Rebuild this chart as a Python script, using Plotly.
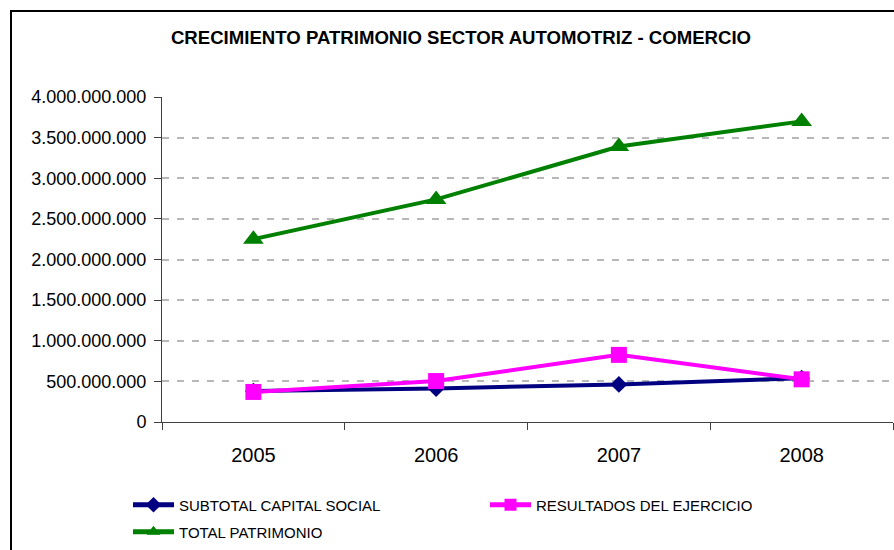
import plotly.graph_objects as go

years = ["2005", "2006", "2007", "2008"]
capital_social = [380_000_000, 413_000_000, 463_000_000, 540_000_000]
resultados = [370_000_000, 504_000_000, 826_000_000, 525_000_000]
total_patrimonio = [2_250_000_000, 2_740_000_000, 3_390_000_000, 3_700_000_000]
y_ticks = [0, 500_000_000, 1_000_000_000, 1_500_000_000, 2_000_000_000,
           2_500_000_000, 3_000_000_000, 3_500_000_000, 4_000_000_000]

W, H = 894, 550
L, R, T, B = 162, 1, 97, 128
pw, ph = W - L - R, H - T - B

fig = go.Figure()
fig.add_trace(go.Scatter(
    x=years, y=capital_social, name="SUBTOTAL CAPITAL SOCIAL", mode="lines+markers",
    line=dict(color="#000080", width=4),
    marker=dict(symbol="diamond", size=13, color="#000080"), legend="legend"))
fig.add_trace(go.Scatter(
    x=years, y=resultados, name="RESULTADOS DEL EJERCICIO", mode="lines+markers",
    line=dict(color="#FF00FF", width=4),
    marker=dict(symbol="square", size=16, color="#FF00FF"), legend="legend"))
fig.add_trace(go.Scatter(
    x=years, y=total_patrimonio, name="TOTAL PATRIMONIO", mode="lines+markers",
    line=dict(color="#008000", width=4),
    marker=dict(symbol="triangle-up", size=18, color="#008000"), legend="legend2"))

font = "Liberation Sans, Arial, sans-serif"
legend_common = dict(orientation="h", xref="container", yref="container",
                     xanchor="left", yanchor="middle", bgcolor="rgba(0,0,0,0)",
                     font=dict(family=font, size=15, color="#000"),
                     entrywidth=301, entrywidthmode="pixels", itemsizing="constant",
                     itemwidth=41)

fig.update_layout(
    width=W, height=H,
    margin=dict(l=L, r=R, t=T, b=B),
    paper_bgcolor="white", plot_bgcolor="white",
    separators=",.",
    showlegend=True,
    title=dict(text="<b>CRECIMIENTO PATRIMONIO SECTOR AUTOMOTRIZ - COMERCIO</b>",
               x=461 / W, xref="container", xanchor="center",
               y=1 - 37 / H, yref="container", yanchor="middle",
               font=dict(family=font, size=18.6, color="#000")),
    legend=dict(x=128 / W, y=1 - 505 / H, **legend_common),
    legend2=dict(x=128 / W, y=1 - 532 / H, **legend_common),
    xaxis=dict(type="category", range=[-0.5, 3.5], tickson="boundaries",
               ticks="outside", ticklen=7,
               tickcolor="#404040", showline=True, linecolor="#404040", linewidth=1,
               showgrid=False, ticklabelstandoff=15,
               tickfont=dict(family=font, size=20, color="#000")),
    yaxis=dict(range=[0, 4_000_000_000], tickvals=y_ticks, tickformat=",d",
               ticks="outside", ticklen=7, tickcolor="#404040",
               showline=True, linecolor="#404040", linewidth=1,
               showgrid=True, gridcolor="#b8b8b8", gridwidth=1.5, griddash="7px,8px",
               zeroline=False, ticklabelstandoff=4,
               tickfont=dict(family=font, size=18, color="#000")),
    shapes=[dict(type="rect", xref="paper", yref="paper",
                 x0=(11 - L) / pw, x1=(W + 20 - L) / pw,
                 y0=-(H + 20 - (T + ph)) / ph, y1=(T + ph - 11) / ph,
                 line=dict(color="#000", width=2), fillcolor="rgba(0,0,0,0)",
                 layer="below")],
)

fig.write_html("out.html", config={"displayModeBar": False},
               post_script="document.body.style.margin='0';document.body.style.overflow='hidden';")
